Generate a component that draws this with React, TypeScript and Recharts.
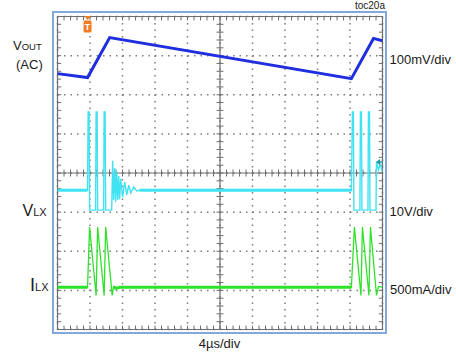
import { LineChart, Line, XAxis, YAxis, ReferenceLine, ReferenceDot, CartesianGrid } from 'recharts';

const W = 456;
const H = 358;

// scope screen: 4µs/div over 10 div, levels read in screen divisions (0 = bottom edge, 8 = top edge)
const timeDivs = [0, 4, 8, 12, 16, 20, 24, 28, 32, 36, 40];
const levelDivs = [0, 1, 2, 3, 4, 5, 6, 7, 8];
const triggerTime = 3.7;
const burstStart = [3.7, 36.17];

const voutTime = [0, 3.7, 6.42, 36.17, 38.89, 40];
const voutDiv = [6.54, 6.44, 7.46, 6.41, 7.44, 7.38];

const vlxTime = [
  0, 3.7, 3.77, 3.89, 3.95,
  4.69, 4.75, 4.88, 4.94,
  5.68, 5.74, 5.86, 5.93,
  6.67,
  6.79, 6.91, 7.04, 7.16, 7.28, 7.41, 7.53, 7.65, 7.78,
  8.02, 8.27, 8.52, 8.77, 9.01, 9.38, 9.75, 10.12,
  36.17,
  36.3, 36.42, 36.48,
  37.22, 37.28, 37.41, 37.47,
  38.21, 38.27, 38.4, 38.46,
  39.2, 39.26, 39.51, 39.75, 40,
];
const vlxDiv = [
  3.56, 3.56, 5.56, 5.56, 3.05,
  3.05, 5.56, 5.56, 3.05,
  3.05, 5.56, 5.56, 3.05,
  3.05,
  4.31, 3.31, 4.13, 3.26, 4.03, 3.31, 3.92, 3.33, 3.85,
  3.38, 3.77, 3.44, 3.69, 3.49, 3.64, 3.54, 3.56,
  3.56,
  5.56, 5.56, 3.05,
  3.05, 5.56, 5.56, 3.05,
  3.05, 5.56, 5.56, 3.05,
  3.05, 4.28, 4.08, 4.21, 4.03,
];
const vlxSettle = 10.12;

const ilxTime = [0, 3.7, 3.95, 4.75, 4.94, 5.74, 5.93, 6.73, 6.91, 7.16, 7.65, 36.17, 36.54, 37.35, 37.53, 38.33, 38.52, 39.26, 39.51, 40];
const ilxDiv = [1.08, 1.08, 2.62, 0.87, 2.62, 0.87, 2.62, 0.87, 1.1, 1.05, 1.08, 1.08, 2.62, 0.87, 2.62, 0.87, 2.62, 0.87, 1.1, 1.08];
const ilxSettle = 6.91;

const BLUE = '#1f2ede';
const CYAN = '#3fe3f2';
const GREEN = '#2ee22a';
const GRID = '#7c7c7c';
const AXIS = '#6e6e6e';

const toPoints = (ts: number[], vs: number[]) => ts.map((t, i) => ({ t, v: vs[i] }));
// idle stretches carry a noise band, so they are drawn heavier than the switching bursts
const idlePoints = (ts: number[], vs: number[], settle: number) =>
  ts.map((t, i) => ({ t, v: t <= burstStart[0] || (t >= settle && t <= burstStart[1]) ? vs[i] : null }));

const vout = toPoints(voutTime, voutDiv);
const vlx = toPoints(vlxTime, vlxDiv);
const vlxIdle = idlePoints(vlxTime, vlxDiv, vlxSettle);
const ilx = toPoints(ilxTime, ilxDiv);
const ilxIdle = idlePoints(ilxTime, ilxDiv, ilxSettle);

const minorT = Array.from({ length: 51 }, (_, i) => +(i * 0.8).toFixed(2));
const minorD = Array.from({ length: 41 }, (_, i) => +(i * 0.2).toFixed(2));

function TriggerMark(props: any) {
  const { cx, cy } = props;
  return (
    <g>
      <path d={`M${cx - 3.5},${cy - 0.5} L${cx + 3.5},${cy - 0.5} L${cx},${cy + 3.5} Z`} fill="#f07d24" />
      <rect x={cx - 4} y={cy + 4} width={8} height={12} rx={1.5} fill="#f07d24" />
      <text x={cx} y={cy + 13.5} fontSize={9} fontWeight="bold" fill="#fff" textAnchor="middle"
        fontFamily="'Liberation Sans', Arial, sans-serif">T</text>
    </g>
  );
}

function LevelMark(props: any) {
  const { cx, cy } = props;
  return (
    <g>
      <path d={`M${cx},${cy} L${cx + 4},${cy - 3} L${cx + 4},${cy + 3} Z`} fill="#24979f" />
      <line x1={cx + 3} y1={cy} x2={cx + 7} y2={cy} stroke="#24979f" strokeWidth={1.5} />
    </g>
  );
}

export default function App() {
  const lineProps = { dataKey: 'v', dot: false, activeDot: false, isAnimationActive: false, type: 'linear' as const };
  return (
    <div style={{ position: 'fixed', left: 0, top: 0, width: W, height: H, background: '#fff' }}>
      <div
        style={{
          position: 'absolute', left: 52, top: 11, width: 335, height: 323,
          border: '2px solid #80a8da', boxSizing: 'border-box',
        }}
      />
      <div style={{ position: 'absolute', left: 0, top: 0 }}>
        <LineChart width={W} height={H} margin={{ top: 16.5, left: 57.5, right: 73.5, bottom: 28.5 }}>
          <XAxis type="number" dataKey="t" domain={[0, 40]} ticks={timeDivs} hide allowDataOverflow />
          <YAxis type="number" domain={[0, 8]} ticks={levelDivs} hide allowDataOverflow />
          <CartesianGrid stroke={GRID} strokeWidth={1.5} strokeDasharray="1.5 5" />

          <ReferenceLine x={20} stroke={AXIS} strokeWidth={1.2} />
          <ReferenceLine y={4} stroke={AXIS} strokeWidth={1.2} />
          <ReferenceLine x={0} stroke={AXIS} strokeWidth={1.2} />
          <ReferenceLine x={40} stroke={AXIS} strokeWidth={1.2} />
          <ReferenceLine y={0} stroke={AXIS} strokeWidth={1.2} />
          <ReferenceLine y={8} stroke={AXIS} strokeWidth={1.2} />

          {minorT.map((t) => (
            <ReferenceLine key={`ct${t}`} segment={[{ x: t, y: 3.91 }, { x: t, y: 4.09 }]} stroke={AXIS} />
          ))}
          {minorD.map((d) => (
            <ReferenceLine key={`cd${d}`} segment={[{ x: 19.57, y: d }, { x: 20.43, y: d }]} stroke={AXIS} />
          ))}
          {minorT.map((t) => (
            <ReferenceLine key={`bt${t}`} segment={[{ x: t, y: 0 }, { x: t, y: 0.1 }]} stroke={AXIS} />
          ))}
          {minorT.map((t) => (
            <ReferenceLine key={`tt${t}`} segment={[{ x: t, y: 7.9 }, { x: t, y: 8 }]} stroke={AXIS} />
          ))}
          {minorD.map((d) => (
            <ReferenceLine key={`ld${d}`} segment={[{ x: 0, y: d }, { x: 0.45, y: d }]} stroke={AXIS} />
          ))}
          {minorD.map((d) => (
            <ReferenceLine key={`rd${d}`} segment={[{ x: 39.55, y: d }, { x: 40, y: d }]} stroke={AXIS} />
          ))}

          <Line {...lineProps} data={vlx} stroke={CYAN} strokeWidth={1.4} />
          <Line {...lineProps} data={vlxIdle} stroke={CYAN} strokeWidth={3} connectNulls={false} />
          <Line {...lineProps} data={ilx} stroke={GREEN} strokeWidth={1.3} />
          <Line {...lineProps} data={ilxIdle} stroke={GREEN} strokeWidth={3} connectNulls={false} />
          <Line {...lineProps} data={vout} stroke={BLUE} strokeWidth={3} />

          <ReferenceDot x={triggerTime} y={8} r={0} ifOverflow="visible" shape={TriggerMark} />
          <ReferenceDot x={39.2} y={4.28} r={0} ifOverflow="visible" shape={LevelMark} />
        </LineChart>
      </div>
      <svg
        width={W}
        height={H}
        style={{ position: 'absolute', left: 0, top: 0, pointerEvents: 'none' }}
        fontFamily="'Liberation Sans', Arial, sans-serif"
        fill="#1a1a1a"
      >
        <text x={13} y={49.5} fontSize={13}>V<tspan fontSize={9.5}>OUT</tspan></text>
        <text x={16} y={69} fontSize={13}>(AC)</text>
        <text x={22.5} y={216} fontSize={16}>V<tspan fontSize={11}>LX</tspan></text>
        <text x={30} y={291} fontSize={18}>I<tspan fontSize={11}>LX</tspan></text>
        <text x={389.5} y={64} fontSize={13}>100mV/div</text>
        <text x={389.5} y={216} fontSize={13}>10V/div</text>
        <text x={390} y={294} fontSize={13}>500mA/div</text>
        <text x={219.5} y={348} fontSize={13} textAnchor="middle">4µs/div</text>
        <text x={385} y={9} fontSize={10} textAnchor="end">toc20a</text>
      </svg>
    </div>
  );
}
